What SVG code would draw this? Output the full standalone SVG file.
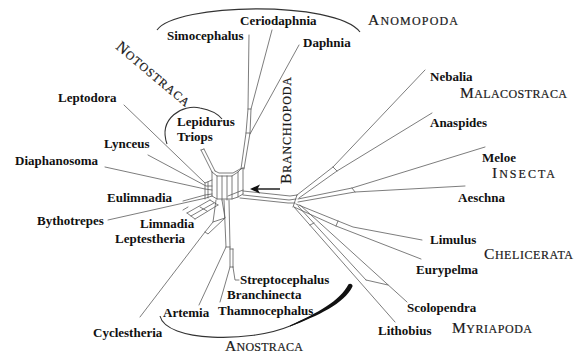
<svg xmlns="http://www.w3.org/2000/svg" width="579" height="354" viewBox="0 0 579 354">
<style>
.lab{font-family:"Liberation Serif","Times New Roman",serif;font-weight:bold;font-size:13px;fill:#111}
.grp{font-family:"Liberation Serif","Times New Roman",serif;font-size:12px;fill:#1a1a1a;stroke:#1a1a1a;stroke-width:0.2}
.big{font-size:15.5px}
.net{fill:none;stroke:#5c5c5c;stroke-width:0.8;stroke-linejoin:round;stroke-linecap:round}
.arc{fill:none;stroke:#333;stroke-width:1.1}
</style>
<rect width="579" height="354" fill="#fff"/>

<g id="connectors" class="net">
<!-- Anomopoda branch -->
<path d="M241,169 L246,133 L248,109 L249,35"/>
<path d="M244,169 L250,133 L251,109 L272,30"/>
<path d="M246,133 L250,133 M248,109 L251,109"/>
<path d="M250,134 L299,45"/>
<!-- Notostraca branch -->
<path d="M201,150 L212,172 M204,149 L215,171 M201,150 L204,149"/>
<!-- central box -->
<path d="M212,172 L217,176 L232,176 L238,172 L242,168"/>
<path d="M215,171 L219,173 L233,173 L240,169 L244,168"/>
<path d="M212,172 V196 M217,176 V199 M222,176 V200 M227,176 V200 M232,176 V199 M238,172 V197 M243,168 V194"/>
<path d="M212,196 L217,199 L232,199 L238,197 L243,194"/>
<path d="M228,196 L238,192 L243,190"/>
<!-- left fan -->
<path d="M124,105 L205,183 L212,180"/>
<path d="M148,155 L206,186 L212,186"/>
<path d="M105,167 L205,189 L212,190"/>
<path d="M183,201 L205,195 L212,194"/>
<path d="M108,220 L206,198 L212,196"/>
<path d="M205,183 V199 M208,182 V198"/>
<!-- Limnadia / Leptestheria ladder -->
<path d="M187,213 L210,200 M191,216 L214,203 M195,219 L218,205"/>
<path d="M187,213 L195,219 M200,207 L207,211 M210,200 L218,205"/>
<path d="M183,210 L188,207"/>
<!-- Cyclestheria -->
<path d="M140,317 L205,232 L213,222 L216,200"/>
<path d="M205,232 L208,234 L225,218 L222,200 M213,222 L225,218"/>
<!-- Anostraca -->
<path d="M224,200 L226,247 L199,305"/>
<path d="M229,200 L230,247 L230,267 L220,302"/>
<path d="M226,247 L230,247 M233,249 L233,267 M230,249 L233,249 M230,267 L233,267"/>
<path d="M233,267 L235,280 L239,280"/>
<!-- long branch -->
<path d="M243,191 L290,196 L297,195"/>
<path d="M243,195 L289,200 L296,199"/>
<path d="M240,198 L288,203 L295,203"/>
<path d="M297,195 L293,207"/>
<!-- Malacostraca -->
<path d="M297,195 L333,167 L425,70"/>
<path d="M299,198 L337,171 L432,113"/>
<path d="M333,167 L337,171"/>
<!-- Insecta -->
<path d="M298,199 L352,188 L485,147"/>
<path d="M298,202 L355,192 L465,186"/>
<path d="M352,188 L355,192"/>
<!-- Chelicerata -->
<path d="M296,204 L338,221 L353,227 L422,240"/>
<path d="M294,207 L336,226 L421,259"/>
<path d="M338,221 L336,226"/>
<!-- Myriapoda -->
<path d="M294,207 L395,322"/>
<path d="M298,206 L366,280"/>
<path d="M300,205 L407,302"/>
<path d="M366,280 L388,285 M310,225 L314,223"/>
</g>

<g id="arcs">
<path class="arc" d="M157,30 C175,3 335,0 360,32"/>
<path class="arc" d="M167,144 C158,118 183,104 200,108 C211,110 218,114 222,119"/>
<path class="arc" d="M160,316 C166,342 250,343 290,326 C318,314 342,303 350,285" stroke="#111"/>
<path d="M290,326.6 C318,315.5 344,304 352.5,286.5 C353,284 350,283 348.5,284.2 C340,301 317,313.2 290,325.4 Z" fill="#111"/>
</g>

<g id="arrow">
<path d="M280,189 H257" stroke="#111" stroke-width="1.4" fill="none"/>
<path d="M250,189 L260,184.5 L257.5,189 L260,193.5 Z" fill="#111"/>
</g>

<g id="n-ceriodaphnia"><text class="lab" x="240" y="25">Ceriodaphnia</text></g>
<g id="n-simocephalus"><text class="lab" x="167" y="40">Simocephalus</text></g>
<g id="n-daphnia"><text class="lab" x="303" y="47">Daphnia</text></g>
<g id="n-leptodora"><text class="lab" x="58" y="102">Leptodora</text></g>
<g id="n-lepidurus"><text class="lab" x="177" y="126">Lepidurus</text></g>
<g id="n-triops"><text class="lab" x="177" y="140.5">Triops</text></g>
<g id="n-lynceus"><text class="lab" x="104" y="148">Lynceus</text></g>
<g id="n-diaphanosoma"><text class="lab" x="15" y="165">Diaphanosoma</text></g>
<g id="n-eulimnadia"><text class="lab" x="107" y="202">Eulimnadia</text></g>
<g id="n-bythotrepes"><text class="lab" x="37" y="225">Bythotrepes</text></g>
<g id="n-limnadia"><text class="lab" x="140" y="228">Limnadia</text></g>
<g id="n-leptestheria"><text class="lab" x="115" y="243">Leptestheria</text></g>
<g id="n-cyclestheria"><text class="lab" x="93" y="337">Cyclestheria</text></g>
<g id="n-artemia"><text class="lab" x="163" y="317">Artemia</text></g>
<g id="n-streptocephalus"><text class="lab" x="240" y="284">Streptocephalus</text></g>
<g id="n-branchinecta"><text class="lab" x="227" y="298.5">Branchinecta</text></g>
<g id="n-thamnocephalus"><text class="lab" x="218" y="315">Thamnocephalus</text></g>
<g id="n-nebalia"><text class="lab" x="430" y="81">Nebalia</text></g>
<g id="n-anaspides"><text class="lab" x="430" y="127">Anaspides</text></g>
<g id="n-meloe"><text class="lab" x="482" y="162">Meloe</text></g>
<g id="n-aeschna"><text class="lab" x="458" y="202">Aeschna</text></g>
<g id="n-limulus"><text class="lab" x="430" y="244">Limulus</text></g>
<g id="n-eurypelma"><text class="lab" x="416" y="274">Eurypelma</text></g>
<g id="n-scolopendra"><text class="lab" x="407" y="312">Scolopendra</text></g>
<g id="n-lithobius"><text class="lab" x="378" y="335">Lithobius</text></g>

<g id="g-anomopoda"><text class="grp" x="368" y="25" textLength="90" lengthAdjust="spacing"><tspan class="big">A</tspan>NOMOPODA</text></g>
<g id="g-notostraca"><text class="grp" transform="translate(115,48) rotate(40)" x="0" y="0" textLength="92" lengthAdjust="spacing"><tspan class="big">N</tspan>OTOSTRACA</text></g>
<g id="g-branchiopoda"><text class="grp" transform="translate(291,184) rotate(-90)" x="0" y="0" textLength="107" lengthAdjust="spacing"><tspan class="big">B</tspan>RANCHIOPODA</text></g>
<g id="g-malacostraca"><text class="grp" x="460" y="98" textLength="107" lengthAdjust="spacing"><tspan class="big">M</tspan>ALACOSTRACA</text></g>
<g id="g-insecta"><text class="grp" x="492" y="178" textLength="63" lengthAdjust="spacing"><tspan class="big">I</tspan>NSECTA</text></g>
<g id="g-chelicerata"><text class="grp" x="484" y="259" textLength="89" lengthAdjust="spacing"><tspan class="big">C</tspan>HELICERATA</text></g>
<g id="g-myriapoda"><text class="grp" x="452" y="333" textLength="80" lengthAdjust="spacing"><tspan class="big">M</tspan>YRIAPODA</text></g>
<g id="g-anostraca"><text class="grp" x="225" y="351" textLength="78" lengthAdjust="spacing"><tspan class="big">A</tspan>NOSTRACA</text></g>
</svg>
